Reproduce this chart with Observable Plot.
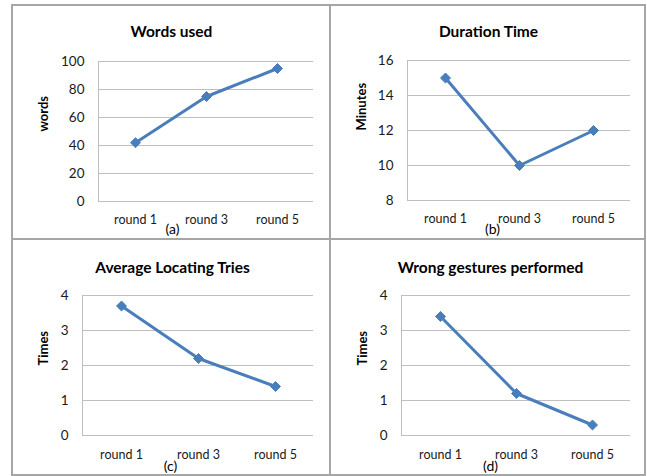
<!DOCTYPE html>
<html><head><meta charset="utf-8">
<script src="https://cdn.jsdelivr.net/npm/d3@7"></script>
<script src="https://cdn.jsdelivr.net/npm/@observablehq/plot@0.6"></script>
<style>
body{margin:0;background:#fff;}
#wrap{position:relative;width:647px;height:476px;overflow:hidden;font-family:Lato,sans-serif;background:#fff;}
.panel{position:absolute;}
.bline{position:absolute;background:#a6a6a6;}
</style></head><body><div id="wrap"></div>
<script>
// ---- data ----
const rounds = ["round 1", "round 3", "round 5"];
const wordsUsed = [42, 75, 95];
const durationMinutes = [15, 10, 12];
const locatingTries = [3.7, 2.2, 1.4];
const wrongGestures = [3.4, 1.2, 0.3];
const wordsTicks = [0, 20, 40, 60, 80, 100];
const minutesTicks = [8, 10, 12, 14, 16];
const timesTicks = [0, 1, 2, 3, 4];
const titles = ["Words used", "Duration Time", "Average Locating Tries", "Wrong gestures performed"];
const yLabels = ["words", "Minutes", "Times", "Times"];
const captions = ["(a)", "(b)", "(c)", "(d)"];

// ---- layout ----
const series = [wordsUsed, durationMinutes, locatingTries, wrongGestures];
const tickSets = [wordsTicks, minutesTicks, timesTicks, timesTicks];
const layout = [
  {left:12, top:4, width:318, height:235, mL:86, mR:17, mT:57, mB:38, lx:24, tdx:-34.5, tdy:-36, cdx:-33.5, cdy:32, xPad:14},
  {left:330, top:4, width:315, height:235, mL:77, mR:15, mT:56, mB:39, lx:24, tdx:-30.5, tdy:-35, cdx:-26.5, cdy:33, xPad:14},
  {left:12, top:239, width:318, height:236, mL:70, mR:17, mT:56, mB:40, lx:24, tdx:-25.5, tdy:-34, cdx:-27.5, cdy:35, xPad:15},
  {left:330, top:239, width:315, height:236, mL:71, mR:15, mT:56, mB:40, lx:25, tdx:-25.5, tdy:-34, cdx:-25.5, cdy:35, xPad:15}
];
const blue = "#4a7ebb";
const grid = "#bfbfbf";

const wrap = document.getElementById("wrap");
layout.forEach((L, k) => {
  const table = rounds.map((r, i) => ({round: r, value: series[k][i]}));
  const ticks = tickSets[k];
  const chart = Plot.plot({
    width: L.width, height: L.height,
    marginLeft: L.mL, marginRight: L.mR, marginTop: L.mT, marginBottom: L.mB,
    style: {fontFamily: "Lato, sans-serif", fontSize: "12px", color: "#000", background: "transparent", overflow: "visible"},
    x: {type: "point", domain: rounds, padding: 0.5},
    y: {domain: [ticks[0], ticks[ticks.length - 1]]},
    marks: [
      Plot.gridY(ticks, {stroke: grid, strokeOpacity: 1, strokeWidth: 1}),
      Plot.frame({anchor: "left", stroke: grid, strokeOpacity: 1}),
      Plot.axisX({tickSize: 0, tickPadding: L.xPad, label: null, fontSize: 12.5, fill: "#1a1a1a"}),
      Plot.axisY(ticks, {tickSize: 0, tickPadding: 14, label: null, fontSize: 13.5, fill: "#1a1a1a"}),
      Plot.text([yLabels[k]], {frameAnchor: "left", rotate: -90, dx: -(L.mL - L.lx - 7), fontWeight: "bold", fontSize: 13, fill: "#000"}),
      Plot.text([titles[k]], {frameAnchor: "top", dx: L.tdx, dy: L.tdy, fontWeight: "bold", fontSize: 15.5, fill: "#000"}),
      Plot.text([captions[k]], {frameAnchor: "bottom", dx: L.cdx, dy: L.cdy, fontSize: 14, fill: "#000"}),
      Plot.line(table, {x: "round", y: "value", stroke: blue, strokeWidth: 3}),
      Plot.dot(table, {x: "round", y: "value", symbol: "diamond2", r: 4.5, fill: blue, stroke: blue, strokeWidth: 1})
    ]
  });
  const div = document.createElement("div");
  div.className = "panel";
  div.style.left = L.left + "px";
  div.style.top = L.top + "px";
  div.appendChild(chart);
  wrap.appendChild(div);
});
// panel borders
[
  {l:11, t:4, w:635, h:2},
  {l:11, t:474, w:635, h:2},
  {l:11, t:4, w:2, h:472},
  {l:644, t:4, w:2, h:472},
  {l:329, t:4, w:2, h:472},
  {l:11, t:238, w:635, h:2}
].forEach(b => {
  const d = document.createElement("div");
  d.className = "bline";
  Object.assign(d.style, {left: b.l + "px", top: b.t + "px", width: b.w + "px", height: b.h + "px"});
  wrap.appendChild(d);
});
</script>
</body></html>
